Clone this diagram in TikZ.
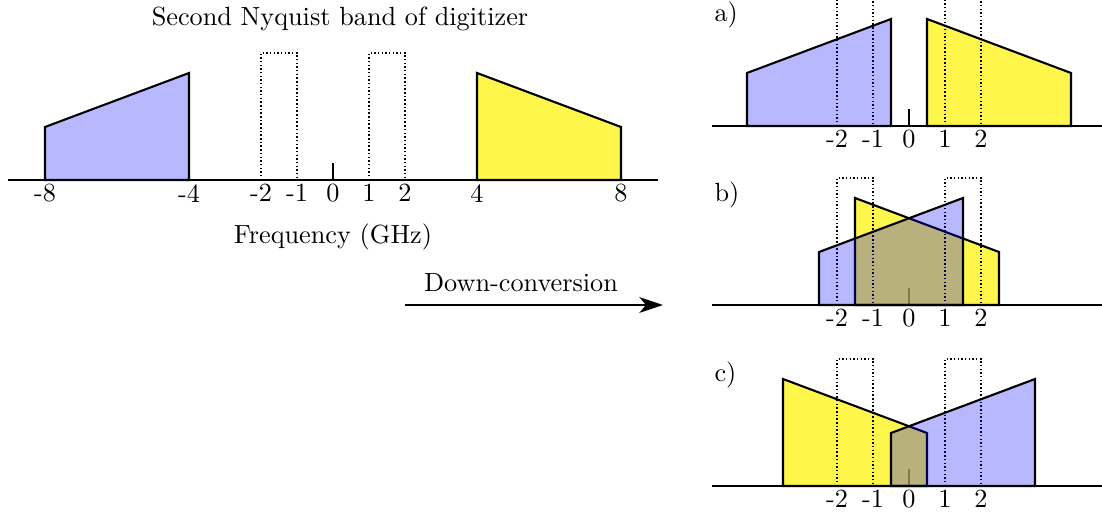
\documentclass[tikz,border=0pt]{standalone}
\usetikzlibrary{arrows.meta}
\tikzset{
  axisline/.style={line width=0.8pt},
  bandline/.style={line width=0.8pt, line join=miter},
  blueband/.style={bandline, fill=blue, fill opacity=0.28},
  yellowband/.style={bandline, fill=yellow, fill opacity=0.7},
  filterbox/.style={line width=0.6pt, dash pattern=on 0.55pt off 0.85pt},
  zerotick/.style={line width=0.6pt},
  ticklabel/.style={anchor=north, inner sep=1.5pt},
  txt/.style={inner sep=0pt}
}
\newcommand{\spectrum}[3]{% #1 shift, #2 axis left, #3 axis right
  \coordinate (axL) at (#2,0);
  \coordinate (axR) at (#3,0);
  \draw[axisline] (axL) -- (axR);
  \draw[zerotick] (0,0) -- (0,17);
  \draw[yellowband] ({4-#1},0) -- ({4-#1},107) -- ({8-#1},53) -- ({8-#1},0) -- cycle;
  \draw[filterbox] (-2,0) -- (-2,127) -- (-1,127) -- (-1,0);
  \draw[filterbox] (1,0) -- (1,127) -- (2,127) -- (2,0);
  \draw[blueband] ({-8+#1},0) -- ({-8+#1},53) -- ({-4+#1},107) -- ({-4+#1},0) -- cycle;
}
\begin{document}
\begin{tikzpicture}[x=0.381pt, y=-0.381pt]
\useasboundingbox (0,0) rectangle (1102,514);
\begin{scope}
\clip (0,0) rectangle (1102,514);
% left panel
\begin{scope}[shift={(333,180)}, xscale=36, yscale=-1]
  \spectrum{0}{-9.03}{9.03}
  \foreach \v in {-8,-4,-2,-1,0,1,2,4,8}
    \node[ticklabel] (l\v) at (\v,0) {\v};
\end{scope}
% panel a
\begin{scope}[shift={(909,126)}, xscale=36, yscale=-1]
  \spectrum{3.5}{-5.47}{5.4}
  \foreach \v in {-2,-1,0,1,2}
    \node[ticklabel] (a\v) at (\v,0) {\v};
\end{scope}
% panel b
\begin{scope}[shift={(909,305)}, xscale=36, yscale=-1]
  \spectrum{5.5}{-5.47}{5.4}
  \foreach \v in {-2,-1,0,1,2}
    \node[ticklabel] (b\v) at (\v,0) {\v};
\end{scope}
% panel c
\begin{scope}[shift={(909,486)}, xscale=36, yscale=-1]
  \spectrum{7.5}{-5.47}{5.4}
  \foreach \v in {-2,-1,0,1,2}
    \node[ticklabel] (c\v) at (\v,0) {\v};
\end{scope}
\end{scope}
\node[txt] (title) at (340,19) {Second Nyquist band of digitizer};
\node[txt] (freq) at (333,237) {Frequency (GHz)};
\node[txt, anchor=west] (la) at (714,15) {a)};
\node[txt, anchor=west] (lb) at (714,195) {b)};
\node[txt, anchor=west] (lc) at (714,375) {c)};
\coordinate (arrS) at (405,305);
\coordinate (arrE) at (663,305);
\draw[line width=0.8pt, -{Stealth[length=9pt, width=6pt, inset=2.5pt]}] (arrS) -- (arrE);
\node[txt] (dc) at (521,283) {Down-conversion};
\end{tikzpicture}
\end{document}
